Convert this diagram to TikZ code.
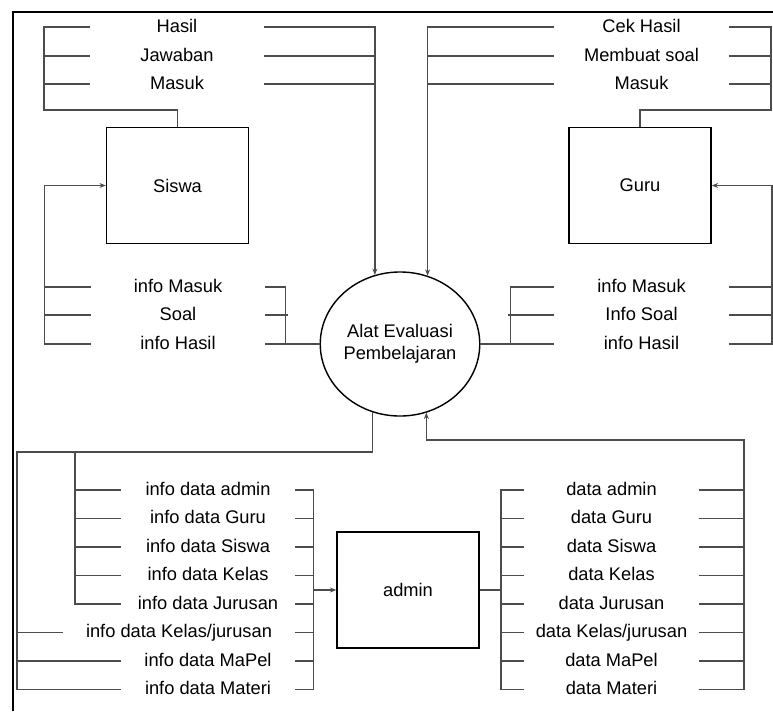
\documentclass[tikz,border=0pt]{standalone}
\usepackage{fontspec}
\setmainfont{Liberation Sans}
\usetikzlibrary{shapes.geometric,arrows.meta}

\begin{document}
\begin{tikzpicture}[x=0.025cm,y=-0.025cm,
  every node/.style={font=\fontsize{13}{15.5}\selectfont},
  entity/.style={draw,line width=1pt,fill=white,minimum width=3.55cm,minimum height=2.9cm},
  process/.style={draw,ellipse,line width=1pt,fill=white,minimum width=3.9cm,minimum height=3.6cm,
    align=center,inner sep=0pt},
  lbl/.style={inner sep=0pt,minimum width=4.35cm,text height=1.38ex,text depth=0pt},
  flow/.style={draw=black!70,line width=1.05pt},
  toarrow/.style={flow,-{Stealth[length=4.5pt,width=3.5pt]}}]
\useasboundingbox (0,0) rectangle (773,711);
\draw[line width=1.5pt] (13,711) -- (13,12) -- (773,12);

% proses utama dan entitas
\node[process] (alat) at (400,344) {Alat Evaluasi\\Pembelajaran};
\node[entity] (siswa) at (177.5,185.5) {Siswa};
\node[entity] (guru) at (640,185.5) {Guru};
\node[entity] (admin) at (408,590) {admin};

% Siswa
\node[lbl] (sHasil) at (177,27) {Hasil};
\node[lbl] (sJawaban) at (177,56) {Jawaban};
\node[lbl] (sMasuk) at (177,84) {Masuk};
\node[lbl] (sInfoMasuk) at (178,287) {info Masuk};
\node[lbl] (sSoal) at (178,315) {Soal};
\node[lbl] (sInfoHasil) at (178,344) {info Hasil};
\coordinate (sKiri) at (44,110);
\draw[flow] (sHasil.west) -| (sKiri) -| (siswa.north);
\draw[flow] (sJawaban.west) -- (sJawaban.west -| sKiri);
\draw[flow] (sMasuk.west) -- (sMasuk.west -| sKiri);
\draw[toarrow] (sHasil.east) -| (alat.110);
\draw[flow] (sJawaban.east) -- (sJawaban.east -| alat.110);
\draw[flow] (sMasuk.east) -- (sMasuk.east -| alat.110);
\draw[flow] (alat.west) -- ++(-34,0) |- (sInfoMasuk.east);
\draw[flow] (sSoal.east) -- ++(23,0);
\draw[flow] (sInfoHasil.east) -- ++(23,0);
\draw[toarrow] (sInfoHasil.west) -- ++(-46,0) |- (siswa.west);
\draw[flow] (sInfoMasuk.west) -- ++(-46,0);
\draw[flow] (sSoal.west) -- ++(-46,0);

% Guru
\node[lbl] (gCek) at (641.5,27) {Cek Hasil};
\node[lbl] (gSoal) at (641.5,56) {Membuat soal};
\node[lbl] (gMasuk) at (641.5,84) {Masuk};
\node[lbl] (gInfoMasuk) at (641.5,287) {info Masuk};
\node[lbl] (gInfoSoal) at (641.5,315) {Info Soal};
\node[lbl] (gInfoHasil) at (641.5,344) {info Hasil};
\coordinate (gKanan) at (771,110);
\draw[flow] (gCek.east) -| (gKanan) -| (guru.north);
\draw[flow] (gSoal.east) -- (gSoal.east -| gKanan);
\draw[flow] (gMasuk.east) -- (gMasuk.east -| gKanan);
\draw[toarrow] (gCek.west) -| (alat.68);
\draw[flow] (gSoal.west) -- (gSoal.west -| alat.68);
\draw[flow] (gMasuk.west) -- (gMasuk.west -| alat.68);
\draw[flow] (alat.east) -- ++(30,0) |- (gInfoMasuk.west);
\draw[flow] (gInfoSoal.west) -- ++(-46,0);
\draw[flow] (gInfoHasil.west) -- ++(-46,0);
\draw[toarrow] (gInfoHasil.east) -- ++(43,0) |- (guru.east);
\draw[flow] (gInfoMasuk.east) -- ++(43,0);
\draw[flow] (gInfoSoal.east) -- ++(43,0);

% admin: info data
\node[lbl] (aiAdmin) at (208,490) {info data admin};
\node[lbl] (aiGuru) at (208,518.5) {info data Guru};
\node[lbl] (aiSiswa) at (208,547) {info data Siswa};
\node[lbl] (aiKelas) at (208,575.5) {info data Kelas};
\node[lbl] (aiJurusan) at (208,604) {info data Jurusan};
\node[lbl,minimum width=5.8cm] (aiKelasJur) at (179,632.5) {info data Kelas/jurusan};
\node[lbl] (aiMapel) at (208,661) {info data MaPel};
\node[lbl] (aiMateri) at (208,689.5) {info data Materi};
\coordinate (aSudut) at (17,452);
\coordinate (aDalam) at (75,452);
\draw[flow] (alat.248) |- (aSudut) |- (aiMateri.west);
\draw[flow] (aiKelasJur.west) -- (aiKelasJur.west -| aSudut);
\draw[flow] (aiMapel.west) -- (aiMapel.west -| aSudut);
\draw[flow] (aDalam) |- (aiJurusan.west);
\draw[flow] (aiAdmin.west) -- (aiAdmin.west -| aDalam);
\draw[flow] (aiGuru.west) -- (aiGuru.west -| aDalam);
\draw[flow] (aiSiswa.west) -- (aiSiswa.west -| aDalam);
\draw[flow] (aiKelas.west) -- (aiKelas.west -| aDalam);
\draw[flow] (aiAdmin.east) -- ++(18,0) coordinate (aBatas) |- (aiMateri.east);
\draw[flow] (aiGuru.east) -- ++(18,0);
\draw[flow] (aiSiswa.east) -- ++(18,0);
\draw[flow] (aiKelas.east) -- ++(18,0);
\draw[flow] (aiJurusan.east) -- ++(18,0);
\draw[flow] (aiKelasJur.east) -- ++(18,0);
\draw[flow] (aiMapel.east) -- ++(18,0);
\draw[toarrow] (aBatas |- admin.west) -- (admin.west);

% admin: data
\node[lbl] (dAdmin) at (611.5,490) {data admin};
\node[lbl] (dGuru) at (611.5,518.5) {data Guru};
\node[lbl] (dSiswa) at (611.5,547) {data Siswa};
\node[lbl] (dKelas) at (611.5,575.5) {data Kelas};
\node[lbl] (dJurusan) at (611.5,604) {data Jurusan};
\node[lbl] (dKelasJur) at (611.5,632.5) {data Kelas/jurusan};
\node[lbl] (dMapel) at (611.5,661) {data MaPel};
\node[lbl] (dMateri) at (611.5,689.5) {data Materi};
\draw[flow] (dAdmin.west) -- ++(-23,0) coordinate (dBatas) |- (dMateri.west);
\draw[flow] (admin.east) -- (admin.east -| dBatas);
\draw[flow] (dGuru.west) -- ++(-23,0);
\draw[flow] (dSiswa.west) -- ++(-23,0);
\draw[flow] (dKelas.west) -- ++(-23,0);
\draw[flow] (dJurusan.west) -- ++(-23,0);
\draw[flow] (dKelasJur.west) -- ++(-23,0);
\draw[flow] (dMapel.west) -- ++(-23,0);
\coordinate (dSudut) at (744,440);
\draw[toarrow] (dMateri.east) -| (dSudut) -| (alat.291);
\draw[flow] (dAdmin.east) -- (dAdmin.east -| dSudut);
\draw[flow] (dGuru.east) -- (dGuru.east -| dSudut);
\draw[flow] (dSiswa.east) -- (dSiswa.east -| dSudut);
\draw[flow] (dKelas.east) -- (dKelas.east -| dSudut);
\draw[flow] (dJurusan.east) -- (dJurusan.east -| dSudut);
\draw[flow] (dKelasJur.east) -- (dKelasJur.east -| dSudut);
\draw[flow] (dMapel.east) -- (dMapel.east -| dSudut);
\end{tikzpicture}
\end{document}
